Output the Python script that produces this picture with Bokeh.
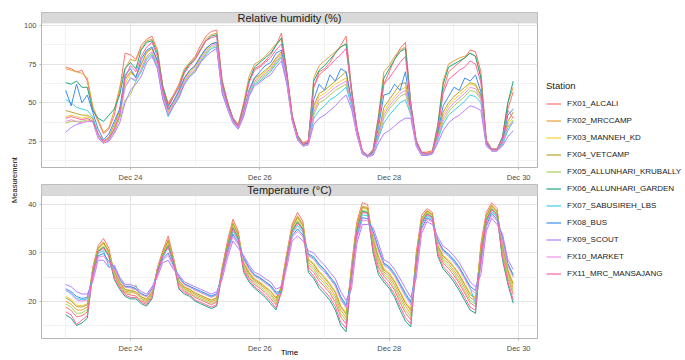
from datetime import datetime, timedelta
from math import pi

from bokeh.plotting import figure
from bokeh.layouts import row, column
from bokeh.models import (Range1d, FixedTicker, DatetimeTickFormatter, BoxAnnotation,
                          Label, Legend, LegendItem)
from bokeh.core.properties import value
from bokeh.embed import file_html
from bokeh.resources import INLINE

# ---------------- data ----------------
stations = ["FX01_ALCALI", "FX02_MRCCAMP", "FX03_MANNEH_KD", "FX04_VETCAMP",
            "FX05_ALLUNHARI_KRUBALLY", "FX06_ALLUNHARI_GARDEN", "FX07_SABUSIREH_LBS",
            "FX08_BUS", "FX09_SCOUT", "FX10_MARKET", "FX11_MRC_MANSAJANG"]
colors = ["#F8766D", "#E6A23C", "#F2CF3A", "#B9A22D", "#A6D456", "#1FA77F",
          "#3CCFE6", "#3D8DF2", "#B37FFF", "#EE90E6", "#FF62A9"]

start_time = datetime(2024, 12, 23, 0, 0)
step_hours = 2
n_points = 84
times = [start_time + timedelta(hours=step_hours * i) for i in range(n_points)]

x_tick_dates = [datetime(2024, 12, 24), datetime(2024, 12, 26), datetime(2024, 12, 28), datetime(2024, 12, 30)]
x_minor_dates = [datetime(2024, 12, 23), datetime(2024, 12, 25), datetime(2024, 12, 27), datetime(2024, 12, 29)]
hum_ticks = [25, 50, 75, 100]
hum_minor = [12.5, 37.5, 62.5, 87.5]
temp_ticks = [20, 30, 40]
temp_minor = [15, 25, 35]

hum_FX01 = [73,72,70,71,64,46,38,30,33,42,58,82, 81,78,87,91,93,84,61,49,55,62,71,76,
            80,87,93,96,97,65,51,40,36,49,64,72, 74,77,81,87,95,70,42,29,24,25,60,70,
            72,76,82,87,93,60,34,19,16,19,38,62, 70,78,85,89,50,26,18,18,19,33,58,70,
            73,76,79,84,83,70,26,20,20,27,46,57]
hum_FX02 = [72,71,70,69,66,48,39,31,34,45,60,72, 78,77,85,90,91,84,60,50,55,62,72,76,
            79,85,91,94,95,64,50,40,36,50,67,75, 77,80,84,88,91,70,42,29,24,26,66,74,
            77,80,83,86,88,58,33,19,16,20,42,70, 74,80,84,86,48,25,18,18,19,36,64,75,
            77,79,80,82,80,67,26,20,20,28,50,60]
hum_FX03 = [41,42,41,40,41,39,29,25,27,34,44,62, 69,67,74,82,85,76,55,44,50,57,65,70,
            73,79,84,88,89,59,47,38,34,44,58,65, 67,70,73,78,82,65,40,27,23,24,46,54,
            56,59,62,64,66,50,30,18,15,18,30,44, 50,54,58,60,44,24,17,17,18,28,42,48,
            52,55,58,62,61,54,24,19,19,24,36,41]
hum_FX04 = [45,44,43,42,42,40,30,25,28,36,45,65, 70,67,75,83,85,77,56,45,51,57,66,71,
            74,80,85,88,89,60,48,39,35,44,58,66, 68,71,74,79,83,66,40,27,23,24,48,56,
            58,61,64,67,70,51,31,18,15,18,30,47, 52,57,62,63,45,24,17,17,18,29,44,50,
            54,57,60,63,62,55,24,19,19,25,38,44]
hum_FX05 = [37,38,38,38,39,38,28,24,26,31,40,52, 55,64,71,79,82,74,54,42,49,55,63,68,
            71,77,82,86,87,58,47,38,34,42,56,63, 65,68,71,76,80,64,39,27,22,23,42,50,
            52,55,58,60,62,49,30,18,15,17,28,40, 46,50,54,56,43,23,17,17,17,27,38,44,
            48,51,54,58,57,52,23,19,19,23,34,39]
hum_FX06 = [63,62,64,60,60,45,40,38,42,46,55,72, 76,72,84,89,90,82,60,48,54,60,70,75,
            78,84,90,93,94,63,50,40,35,48,64,73, 76,79,82,87,92,69,41,29,23,25,64,71,
            74,78,82,86,88,58,33,18,16,19,40,66, 72,78,83,85,49,25,18,17,18,35,62,73,
            75,77,79,82,80,66,25,20,20,28,50,64]
hum_FX07 = [52,50,47,46,45,41,30,24,26,33,42,60, 66,64,70,78,81,73,53,41,48,54,62,67,
            70,76,81,85,86,57,46,37,33,42,55,62, 64,67,70,75,79,63,39,26,22,23,40,45,
            48,52,54,57,60,48,30,17,15,17,27,37, 42,46,50,52,42,23,16,16,17,26,36,42,
            45,48,51,55,54,50,23,19,19,23,32,38]
hum_FX08 = [58,48,62,50,55,44,33,26,30,38,46,68, 72,66,78,84,86,77,57,46,51,58,66,71,
            74,80,85,88,89,60,48,39,34,44,58,66, 70,74,76,82,84,66,40,27,23,24,52,62,
            58,68,64,72,70,51,31,18,15,18,34,55, 56,62,58,70,45,24,17,17,18,31,48,54,
            60,58,66,64,68,57,24,19,19,25,42,46]
hum_FX09 = [31,34,36,37,38,38,27,24,25,30,37,50, 58,62,67,76,80,72,52,42,48,53,62,67,
            70,76,80,83,85,56,46,37,33,41,54,61, 63,66,68,73,77,62,38,26,22,23,36,40,
            42,45,48,52,55,46,29,17,15,16,24,30, 32,35,38,40,40,22,16,16,17,24,32,37,
            40,42,45,48,47,45,22,19,19,22,28,32]
hum_FX10 = [38,39,38,37,38,38,28,24,26,32,42,60, 66,65,72,80,83,75,55,43,50,56,64,69,
            72,78,83,87,88,59,47,38,34,43,57,64, 66,69,72,77,81,65,39,27,22,23,44,52,
            54,57,60,62,64,50,30,18,15,17,29,42, 48,52,56,58,44,23,17,17,18,27,40,46,
            50,53,56,60,59,53,23,19,19,24,35,37]
hum_FX11 = [40,41,40,39,40,38,30,25,27,33,42,66, 74,70,80,86,89,80,58,47,54,60,69,74,
            78,84,90,92,93,62,49,40,35,47,63,71, 73,76,79,84,88,68,41,28,23,25,60,68,
            71,74,78,81,85,57,33,19,16,19,38,62, 66,71,76,80,48,25,18,17,18,33,56,65,
            68,71,73,77,75,63,25,20,20,27,45,40]

temp_FX01 = [18.8,18.1,16.8,17.0,17.8,27.0,31.5,33.0,31.0,25.3,23.1,21.6,
             21.3,21.1,20.1,19.6,21.1,27.0,30.5,33.5,29.0,23.3,22.1,21.6,
             20.8,20.3,19.8,19.3,19.8,27.0,32.5,37.0,34.5,26.9,24.9,23.5,
             22.7,21.8,20.6,19.3,23.5,30.0,36.0,38.4,36.5,27.1,26.0,24.2,
             23.0,21.7,19.8,16.8,15.3,27.5,36.5,40.4,40.0,31.3,27.1,25.2,
             24.0,22.3,19.8,17.6,16.2,30.0,37.8,39.2,38.4,30.4,27.9,26.8,
             25.4,23.7,21.7,19.7,18.9,32.0,38.4,40.4,39.2,30.0,24.8,21.4]
temp_FX02 = [20.0,19.4,18.2,18.2,18.8,26.6,31.1,32.3,30.4,25.9,23.6,22.1,
             21.9,21.6,20.6,20.1,21.6,26.7,30.1,32.8,28.6,23.9,22.6,22.1,
             21.4,20.9,20.4,19.9,20.4,26.6,32.0,36.3,34.0,27.6,25.6,24.2,
             23.5,22.6,21.5,20.1,23.0,29.6,35.5,37.7,35.9,28.0,27.1,25.4,
             24.2,22.8,21.1,18.2,16.6,26.8,35.8,39.7,39.4,32.4,28.4,26.1,
             25.1,23.4,21.1,19.0,17.4,29.2,37.2,38.8,38.0,31.2,28.8,27.8,
             26.4,24.8,22.8,20.8,20.0,31.0,37.8,39.9,38.7,31.0,25.8,22.8]
temp_FX03 = [21.0,20.4,19.2,19.1,19.5,26.3,30.8,31.9,30.0,26.3,24.0,22.5,
             22.3,22.0,21.0,20.5,22.0,26.5,29.9,32.3,28.4,24.3,23.0,22.5,
             21.8,21.3,20.8,20.3,20.8,26.4,31.6,35.9,33.6,28.1,26.1,24.7,
             24.0,23.1,22.2,20.8,22.6,29.3,35.1,37.2,35.5,28.7,27.9,26.2,
             25.1,23.7,22.1,19.2,17.6,26.3,35.4,39.3,39.0,33.2,29.4,26.8,
             25.9,24.3,22.1,20.0,18.4,28.7,36.9,38.5,37.8,31.7,29.5,28.6,
             27.2,25.7,23.7,21.7,20.8,30.4,37.4,39.6,38.4,31.8,26.6,23.8]
temp_FX04 = [20.7,20.1,18.9,18.8,19.3,26.4,30.9,32.1,30.2,26.2,23.9,22.4,
             22.2,21.9,20.9,20.4,21.9,26.6,30.0,32.5,28.5,24.2,22.9,22.4,
             21.7,21.2,20.7,20.2,20.7,26.5,31.8,36.1,33.8,27.9,25.9,24.5,
             23.8,22.9,22.0,20.6,22.8,29.4,35.3,37.4,35.7,28.5,27.6,26.0,
             24.8,23.4,21.8,18.9,17.3,26.5,35.6,39.5,39.2,32.9,29.1,26.5,
             25.6,24.0,21.8,19.6,18.1,28.9,37.0,38.7,37.9,31.5,29.3,28.3,
             27.0,25.4,23.4,21.4,20.5,30.7,37.6,39.8,38.5,31.6,26.3,23.5]
temp_FX05 = [19.4,18.8,17.5,17.6,18.3,26.0,30.5,31.4,29.6,25.6,23.4,21.9,
             21.6,23.4,20.4,19.9,21.4,26.3,29.6,31.8,28.1,23.6,22.4,21.9,
             21.1,20.6,20.1,19.6,20.1,26.1,31.3,35.4,33.3,27.2,25.2,23.9,
             23.1,22.2,21.1,19.7,22.3,29.0,34.8,36.7,35.1,27.6,26.6,24.8,
             23.6,22.2,20.5,17.5,16.0,25.8,34.9,38.8,38.6,31.9,27.8,25.6,
             24.6,22.8,20.5,18.3,16.8,28.1,36.5,38.3,37.5,30.8,28.4,27.3,
             25.9,24.2,22.2,20.2,19.4,29.7,37.0,39.3,38.0,30.5,25.3,22.1]
temp_FX06 = [17.2,16.5,15.0,15.5,16.5,25.8,30.3,31.2,29.4,24.5,22.5,21.0,
             20.5,20.5,19.5,19.0,20.5,26.2,29.5,31.5,28.0,22.5,21.5,21.0,
             20.0,19.5,19.0,18.5,19.0,26.0,31.1,35.2,33.1,26.0,24.0,22.7,
             21.8,20.8,19.5,18.2,22.1,28.8,34.6,36.4,34.9,26.0,24.7,22.7,
             21.5,20.2,18.2,15.0,13.7,25.5,34.7,38.6,38.4,30.0,25.5,24.0,
             22.7,20.8,18.2,15.9,14.7,27.9,36.3,38.1,37.4,29.4,26.7,25.5,
             24.0,22.2,20.2,18.2,17.5,29.4,36.8,39.1,37.9,28.6,23.5,19.6]
temp_FX07 = [22.2,21.7,20.6,20.3,20.5,25.4,29.9,30.5,27.2,26.9,24.5,23.0,
             22.9,22.5,21.5,21.0,22.5,25.9,29.1,31.2,27.6,24.9,23.5,23.0,
             22.4,21.9,21.4,20.9,21.4,25.6,30.6,34.5,32.6,28.8,26.8,25.3,
             24.8,23.9,23.1,21.6,21.6,28.4,34.1,35.7,34.3,29.6,28.9,27.4,
             26.3,24.8,23.4,20.6,18.9,24.8,34.0,37.9,37.7,34.2,30.7,27.7,
             26.9,25.4,23.4,21.3,19.6,27.1,35.7,37.7,37.0,32.5,30.5,29.6,
             28.3,26.8,24.8,22.8,19.5,28.4,36.3,38.6,37.4,32.9,27.6,25.2]
temp_FX08 = [22.6,22.0,21.0,20.6,20.8,24.9,29.4,29.9,28.2,27.1,24.6,23.1,
             23.1,22.6,21.6,21.1,22.6,25.6,28.8,30.0,27.3,25.1,23.6,23.1,
             22.6,22.1,21.6,21.1,21.6,25.3,30.1,33.9,32.1,29.0,27.0,25.5,
             24.9,24.1,23.3,21.9,22.0,27.9,33.6,35.0,33.7,29.8,29.2,27.7,
             26.6,25.1,23.7,21.0,19.2,24.0,33.4,37.3,37.1,34.5,31.0,27.9,
             27.2,25.7,23.7,21.7,19.9,26.3,35.1,37.3,36.7,32.7,30.7,29.8,
             28.6,27.1,25.1,23.1,22.2,27.5,35.7,38.2,36.9,33.2,27.8,25.5]
temp_FX09 = [23.5,23.0,22.0,21.5,21.5,24.0,28.5,28.5,27.0,27.5,25.0,23.5,
             23.5,23.0,22.0,21.5,23.0,25.0,28.0,28.5,26.5,25.5,24.0,23.5,
             23.0,22.5,22.0,21.5,22.0,24.5,29.0,32.5,31.0,29.5,27.5,26.0,
             25.5,24.7,24.0,22.5,23.0,27.0,32.5,33.5,32.5,30.5,30.0,28.6,
             27.5,26.0,24.7,22.0,20.2,22.5,32.0,35.9,35.9,35.3,32.0,28.6,
             28.0,26.6,24.7,22.7,20.8,24.7,34.0,36.5,35.9,33.3,31.4,30.6,
             29.4,28.0,26.0,24.0,23.0,25.5,34.5,37.2,35.9,34.0,28.6,26.6]
temp_FX10 = [22.5,21.4,20.3,20.0,20.3,24.6,29.1,29.4,27.8,26.8,24.4,22.9,
             22.8,22.4,21.4,20.9,22.4,25.4,28.5,29.5,27.0,24.8,23.4,22.9,
             22.3,21.8,21.3,20.8,21.3,25.0,29.7,33.4,31.7,28.6,26.6,25.2,
             24.6,23.7,22.9,21.4,21.5,27.6,33.2,34.5,33.3,29.4,28.7,27.1,
             26.0,24.6,23.1,20.3,18.6,23.5,32.9,36.8,36.7,34.0,30.4,27.5,
             26.7,25.2,23.1,21.0,19.3,25.8,34.8,37.0,36.4,32.3,30.2,29.3,
             28.0,26.6,24.6,22.6,21.6,26.8,35.3,37.8,36.6,32.6,27.3,24.9]
temp_FX11 = [17.8,17.2,15.2,16.1,17.0,25.7,30.2,31.0,29.2,24.8,22.8,21.3,
             20.8,20.8,19.8,19.3,20.8,26.1,29.4,31.3,27.9,22.8,21.8,21.3,
             20.3,19.8,19.3,18.8,19.3,25.9,30.9,35.0,32.9,26.4,24.4,23.0,
             22.2,21.2,20.0,18.6,21.9,28.7,34.4,36.2,34.7,26.5,25.2,23.3,
             22.1,20.8,18.9,15.7,14.4,25.3,34.5,38.4,38.2,30.5,26.2,24.5,
             23.2,21.4,18.9,16.6,15.3,27.6,36.1,38.0,37.3,29.8,27.2,26.0,
             24.6,22.8,20.8,18.8,18.1,29.1,36.6,39.0,37.7,29.1,24.0,20.3]

humidity = [hum_FX01, hum_FX02, hum_FX03, hum_FX04, hum_FX05, hum_FX06,
            hum_FX07, hum_FX08, hum_FX09, hum_FX10, hum_FX11]
temperature = [temp_FX01, temp_FX02, temp_FX03, temp_FX04, temp_FX05, temp_FX06,
               temp_FX07, temp_FX08, temp_FX09, temp_FX10, temp_FX11]

# ---------------- style / layout ----------------
FONT = "Liberation Sans"
EPOCH = datetime(1970, 1, 1)


def ms(d):
    return (d - EPOCH).total_seconds() * 1000.0


x_start = datetime(2024, 12, 22, 15, 0)
x_end = datetime(2024, 12, 30, 7, 0)
x_range = Range1d(start=x_start, end=x_end)
x_mid = (ms(x_start) + ms(x_end)) / 2.0

LABEL_W = 20
PANEL_W = 521
LEGEND_W = 143
H1, H2 = 184, 175
TOTAL_H = H1 + H2

hum_lo, hum_hi = 8.2, 101.4
tmp_lo, tmp_hi = 12.3, 41.8


def make_panel(height, top_border, strip_px, bottom_border, y_lo, y_hi, ticks, minor,
               strip_text, xlabel=None):
    panel_px = height - top_border - strip_px - bottom_border
    strip_units = strip_px * (y_hi - y_lo) / panel_px
    p = figure(width=PANEL_W, height=height, x_axis_type="datetime", x_range=x_range,
               y_range=Range1d(y_lo, y_hi + strip_units), title=None,
               output_backend="svg", toolbar_location=None,
               min_border_left=16, min_border_right=4,
               min_border_top=top_border, min_border_bottom=bottom_border)
    xt = FixedTicker(ticks=[ms(d) for d in x_tick_dates], minor_ticks=[ms(d) for d in x_minor_dates])
    yt = FixedTicker(ticks=ticks, minor_ticks=minor)
    p.xaxis.ticker = xt
    p.xgrid.ticker = xt
    p.yaxis.ticker = yt
    p.ygrid.ticker = yt
    p.xaxis.formatter = DatetimeTickFormatter(days="%b %d", months="%b %d", hours="%b %d",
                                              hourmin="%b %d", minutes="%b %d")
    for ax in (p.xaxis, p.yaxis):
        ax.axis_line_color = None
        ax.major_tick_line_color = "#b3b3b3"
        ax.major_tick_out = 2
        ax.major_tick_in = 0
        ax.minor_tick_line_color = None
        ax.major_label_text_font = FONT
        ax.major_label_text_font_size = "7.5px"
        ax.major_label_text_color = "#4d4d4d"
        ax.major_label_standoff = 1
        ax.axis_label_standoff = 0
    if xlabel:
        # the axis title sits just under the tick-label row, between two date labels
        p.xaxis.axis_label = xlabel
        p.xaxis.axis_label_standoff = -8
        p.xaxis.axis_label_text_font = FONT
        p.xaxis.axis_label_text_font_size = "8px"
        p.xaxis.axis_label_text_font_style = "normal"
        p.xaxis.axis_label_text_color = "#000000"
    for g in (p.xgrid, p.ygrid):
        g.grid_line_color = "#e4e4e4"
        g.grid_line_width = 1
        g.minor_grid_line_color = "#f2f2f2"
        g.minor_grid_line_width = 1
    p.outline_line_color = "#b3b3b3"
    p.outline_line_width = 1
    p.background_fill_color = "white"
    p.border_fill_color = "white"
    p.add_layout(BoxAnnotation(bottom=y_hi, fill_color="#d9d9d9", fill_alpha=1.0,
                               line_color="#c8c8c8", line_width=0.5))
    p.add_layout(Label(x=x_mid, y=y_hi + strip_units / 2.0, text=strip_text,
                       text_align="center", text_baseline="middle",
                       text_font=FONT, text_font_size="11px", text_color="#1a1a1a"))
    return p


p1 = make_panel(H1, 12, 11, 12, hum_lo, hum_hi, hum_ticks, hum_minor, "Relative humidity (%)")
p2 = make_panel(H2, 0, 12, 14, tmp_lo, tmp_hi, temp_ticks, temp_minor, "Temperature (°C)",
                xlabel="Time")

for name, col, hv, tv in zip(stations, colors, humidity, temperature):
    p1.line(times, hv, line_color=col, line_width=1.0)
    p2.line(times, tv, line_color=col, line_width=1.0)

# y-axis title figure
lab = figure(width=LABEL_W, height=TOTAL_H, x_range=Range1d(0, 1), y_range=Range1d(0, 1),
             x_axis_type=None, y_axis_type=None, title=None, output_backend="svg",
             toolbar_location=None, min_border=0)
lab.outline_line_color = None
lab.grid.visible = False
lab.text(x=[0.72], y=[0.5], text=["Measurement"], angle=pi / 2,
         text_align="center", text_baseline="middle",
         text_font=value(FONT), text_font_size="7.5px", text_color="#000000")

# legend figure
lf = figure(width=LEGEND_W, height=TOTAL_H, x_range=Range1d(0, 1), y_range=Range1d(0, 1),
            x_axis_type=None, y_axis_type=None, title=None, output_backend="svg",
            toolbar_location=None, min_border=0)
lf.outline_line_color = None
lf.grid.visible = False
items = []
for name, col in zip(stations, colors):
    r = lf.line(x=[5, 6], y=[5, 6], line_color=col, line_width=1.2)
    items.append(LegendItem(label=name, renderers=[r]))
legend = Legend(items=items, title="Station", location=(5, 79),
                title_text_font=FONT, title_text_font_size="9.5px", title_text_color="#1a1a1a",
                title_text_font_style="normal", title_standoff=6,
                label_text_font=FONT, label_text_font_size="8px", label_text_color="#1a1a1a",
                glyph_width=15, glyph_height=13, label_height=13, spacing=4, label_standoff=6,
                padding=0, margin=0, border_line_color=None, background_fill_alpha=0)
lf.add_layout(legend)

layout = row(lab, column(p1, p2), lf)

open("out.html", "w").write(file_html(layout, INLINE, title="Station measurements"))
